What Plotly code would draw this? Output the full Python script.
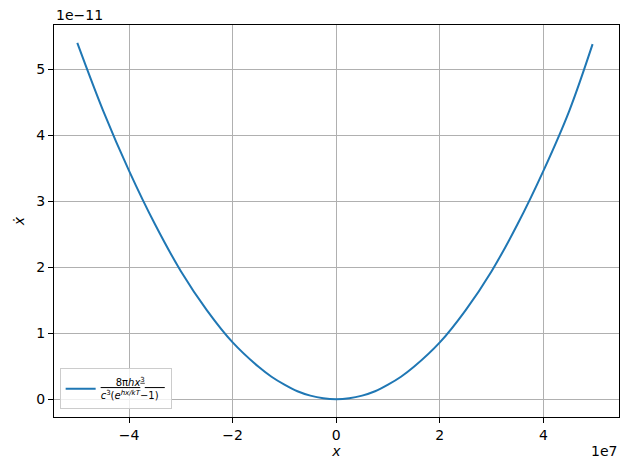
import plotly.graph_objects as go

# values
x_vals = [-5.0e7, -4.5e7, -4.0e7, -3.5e7, -3.0e7, -2.5e7, -2.0e7, -1.5e7, -1.25e7, -1.0e7,
          -0.75e7, -0.5e7, -0.25e7, 0.0, 0.25e7, 0.5e7, 0.75e7, 1.0e7, 1.25e7, 1.5e7,
          2.0e7, 2.5e7, 3.0e7, 3.5e7, 4.0e7, 4.5e7, 4.95e7]
y_vals = [5.40e-11, 4.37e-11, 3.46e-11, 2.65e-11, 1.94e-11, 1.35e-11, 0.86e-11, 0.49e-11,
          0.34e-11, 0.22e-11, 0.12e-11, 0.054e-11, 0.014e-11, 0.0, 0.014e-11, 0.054e-11,
          0.12e-11, 0.22e-11, 0.34e-11, 0.49e-11, 0.86e-11, 1.35e-11, 1.94e-11, 2.65e-11,
          3.46e-11, 4.37e-11, 5.38e-11]

x_ticks = [-4e7, -2e7, 0, 2e7, 4e7]
x_ticktext = ["\u22124", "\u22122", "0", "2", "4"]
y_ticks = [0, 1e-11, 2e-11, 3e-11, 4e-11, 5e-11]
y_ticktext = ["0", "1", "2", "3", "4", "5"]

# fraction faked with an underlined numerator
legend_label = ("<u>\u2003\u20028\u03c0<i>hx</i><sup>3</sup>\u2003\u2003</u><br>"
                "<i>c</i><sup>3</sup>(<i>e</i><sup><i>hx/kT</i></sup>\u22121)")

fig = go.Figure()
fig.add_trace(go.Scatter(
    x=x_vals, y=y_vals, mode="lines", name=legend_label,
    line=dict(color="#1f77b4", width=2, shape="spline"),
))

axis_common = dict(
    showline=True, linecolor="black", linewidth=1, mirror=True,
    ticks="outside", ticklen=5, tickcolor="black",
    showgrid=True, gridcolor="#b0b0b0", gridwidth=0.8,
    zeroline=False, tickfont=dict(size=14, color="black"),
)

# page body has an 8px margin, so the figure is a bit smaller than the window
fig.update_layout(
    width=622, height=462,
    margin=dict(l=44, r=10, t=17, b=53),
    paper_bgcolor="white", plot_bgcolor="white",
    font=dict(family="DejaVu Sans", color="black"),
    xaxis=dict(axis_common, range=[-5.45e7, 5.46e7], tickvals=x_ticks, ticktext=x_ticktext,
               title=dict(text="<i>x</i>", font=dict(size=14), standoff=4)),
    yaxis=dict(axis_common, range=[-0.27e-11, 5.67e-11], tickvals=y_ticks, ticktext=y_ticktext,
               title=dict(text="<i>\u1e8b</i>", font=dict(size=14), standoff=8)),
    showlegend=True,
    legend=dict(x=0.01, y=0.02, xanchor="left", yanchor="bottom",
                bordercolor="#cccccc", borderwidth=1, bgcolor="rgba(255,255,255,0.8)",
                font=dict(size=10), itemwidth=30),
)

fig.add_annotation(text="1e\u221211", xref="paper", yref="paper", x=0, y=1,
                   xanchor="left", yanchor="bottom", showarrow=False, font=dict(size=14))
fig.add_annotation(text="1e7", xref="paper", yref="paper", x=1, y=0, yshift=-24,
                   xanchor="right", yanchor="top", showarrow=False, font=dict(size=14))

fig.write_html("out.html")
